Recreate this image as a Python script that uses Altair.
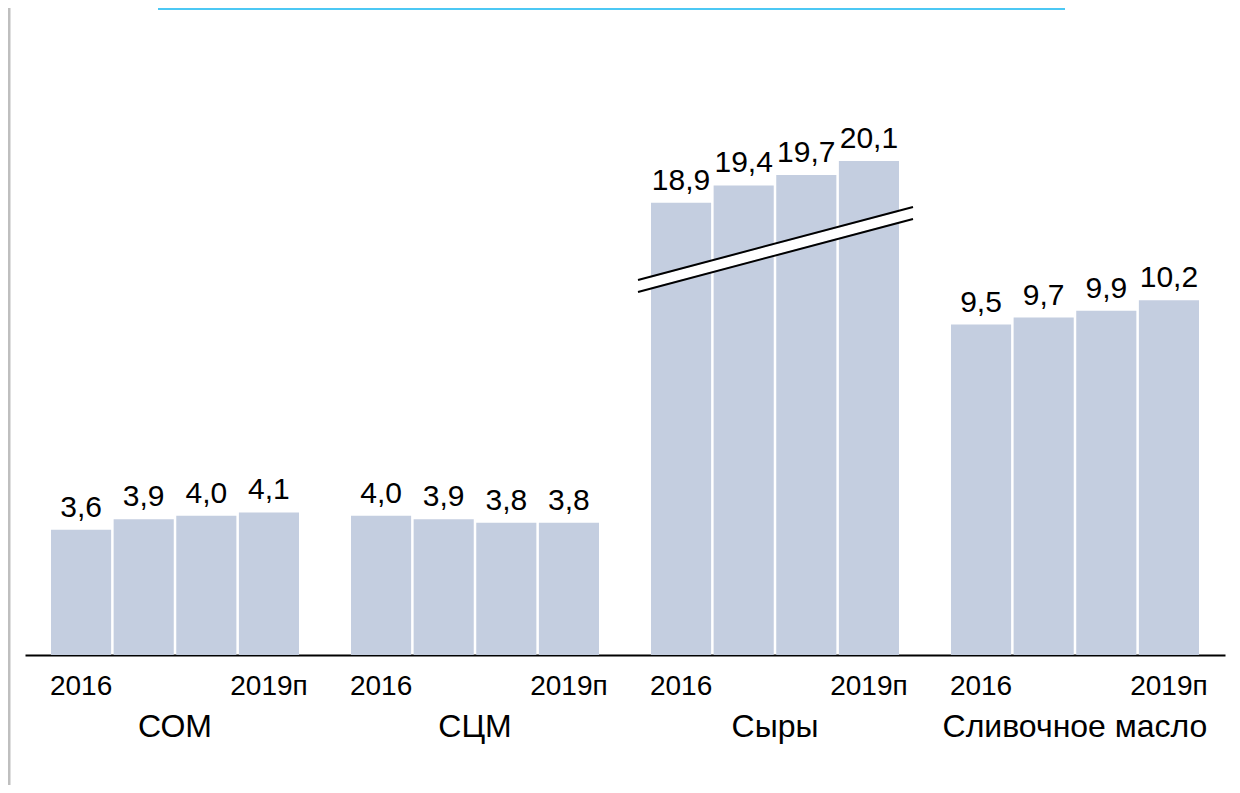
import altair as alt
import pandas as pd

groups = ["СОМ", "СЦМ", "Сыры", "Сливочное масло"]
years = ["2016", "2017", "2018", "2019п"]
shown_years = ["2016", "2019п"]
som = [3.6, 3.9, 4.0, 4.1]
scm = [4.0, 3.9, 3.8, 3.8]
cheese = [18.9, 19.4, 19.7, 20.1]
butter = [9.5, 9.7, 9.9, 10.2]
# units cut out of the bars by the axis break
break_cut = {"Сыры": 5.9}

rows = []
for g, vals in zip(groups, [som, scm, cheese, butter]):
    for yr, v in zip(years, vals):
        rows.append({
            "group": g,
            "year": yr,
            "value": v,
            "shown": v - break_cut.get(g, 0.0),
            "label": f"{v:.1f}".replace(".", ","),
        })
df = pd.DataFrame(rows)
gdf = pd.DataFrame({"group": groups})
dummy = pd.DataFrame({"k": [0]})

FONT = "Liberation Sans"
BAR = "#C4CEE0"

x_enc = alt.X("group:N", sort=groups,
              scale=alt.Scale(paddingInner=0.1733, paddingOuter=0.0867),
              axis=alt.Axis(labels=False, ticks=False, title=None, domain=True,
                            domainColor="black", domainWidth=2, grid=False))
xo_enc = alt.XOffset("year:N", sort=years, scale=alt.Scale(paddingInner=0.04, paddingOuter=0))
y_enc = alt.Y("shown:Q", scale=alt.Scale(domain=[0, 18.6], nice=False), axis=None)

base = alt.Chart(df)

bars = base.mark_bar(color=BAR).encode(x=x_enc, xOffset=xo_enc, y=y_enc)

values = base.mark_text(font=FONT, fontSize=30, baseline="alphabetic", align="center",
                        dy=-13, color="black").encode(
    x=x_enc, xOffset=xo_enc, y=y_enc, text="label:N")

year_txt = base.transform_filter(
    alt.FieldOneOfPredicate(field="year", oneOf=shown_years)
).mark_text(font=FONT, fontSize=28, baseline="alphabetic", align="center",
            dy=40, color="black").encode(
    x=x_enc, xOffset=xo_enc, y=alt.datum(0), text="year:N")

group_txt = alt.Chart(gdf).mark_text(font=FONT, fontSize=32, baseline="alphabetic",
                                     align="center", dy=82, color="black").encode(
    x=alt.X("group:N", sort=groups), y=alt.datum(0), text="group:N")

dec = alt.Chart(dummy)
break_white = dec.mark_rule(color="white", strokeWidth=10).encode(
    x=alt.value(613), x2=alt.value(888), y=alt.value(278), y2=alt.value(205))
break_top = dec.mark_rule(color="black", strokeWidth=2).encode(
    x=alt.value(613), x2=alt.value(888), y=alt.value(272), y2=alt.value(199))
break_bot = dec.mark_rule(color="black", strokeWidth=2).encode(
    x=alt.value(613), x2=alt.value(888), y=alt.value(284), y2=alt.value(211))

cyan = dec.mark_rule(color="#4CC8F4", strokeWidth=2).encode(
    x=alt.value(133), x2=alt.value(1040), y=alt.value(1))
left_line = dec.mark_rule(color="#BFBFBF", strokeWidth=3).encode(
    x=alt.value(-16), y=alt.value(0), y2=alt.value(777))

chart = alt.layer(
    bars, values, year_txt, group_txt, break_white, break_top, break_bot, cyan, left_line
).properties(
    width=1200, height=647,
    autosize=alt.AutoSizeParams(type="none"),
    padding={"left": 17, "top": 0, "right": 7, "bottom": 130},
).configure(font=FONT).configure_view(stroke=None, strokeWidth=0)

chart.save("out.html", embed_options={"renderer": "svg", "actions": False})
